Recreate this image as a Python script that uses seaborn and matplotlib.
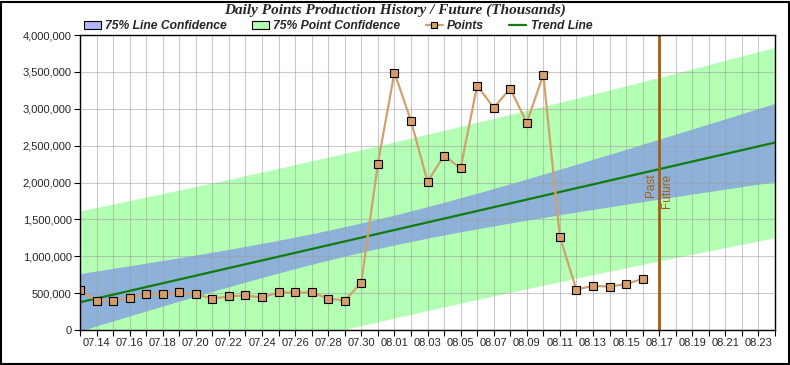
import numpy as np
import pandas as pd
import matplotlib
matplotlib.use("Agg")
import matplotlib.pyplot as plt
from matplotlib.patches import Patch, Rectangle
from matplotlib.lines import Line2D
from matplotlib.ticker import FuncFormatter, MultipleLocator
import seaborn as sns

# ---------------- data ----------------
start_date = "2008-07-13"
end_date = "2008-08-16"
axis_end_date = "2008-08-24"
divider_date = "2008-08-17"
points = [536000, 400000, 400000, 436000, 482000, 482000, 509000, 482000,
          427000, 455000, 468000, 441000, 509000, 509000, 509000, 427000,
          400000, 641000, 2255000, 3490000, 2838000, 2011000, 2364000,
          2192000, 3313000, 3015000, 3272000, 2811000, 3462000, 1261000,
          547000, 601000, 587000, 624000, 692000]
t_75 = 1.167  # two-sided 75% t multiplier
title = "Daily Points Production History / Future (Thousands)"
legend_labels = ["75% Line Confidence", "75% Point Confidence", "Points", "Trend Line"]

# ---------------- derived ----------------
dates = pd.date_range(start_date, end_date, freq="D")
all_days = pd.date_range(start_date, axis_end_date, freq="D")
y = np.array(points, dtype=float)
n = len(y)
xd = np.arange(n, dtype=float)
slope, intercept = np.polyfit(xd, y, 1)
resid = y - (slope * xd + intercept)
s = np.sqrt(np.sum(resid ** 2) / (n - 2))
xm = xd.mean()
sxx = np.sum((xd - xm) ** 2)
xs = np.linspace(0, len(all_days) - 1, 300)
fit = slope * xs + intercept
se_line = s * np.sqrt(1.0 / n + (xs - xm) ** 2 / sxx)
se_pred = s * np.sqrt(1.0 + 1.0 / n + (xs - xm) ** 2 / sxx)
xs_dates = pd.to_datetime(start_date) + pd.to_timedelta(xs, unit="D")

df = pd.DataFrame({"date": dates, "points": y})

# ---------------- style ----------------
sns.set_theme(style="white")
plt.rcParams["font.family"] = ["Liberation Sans", "DejaVu Sans"]

fig = plt.figure(figsize=(7.9, 3.65), dpi=100)
ax = fig.add_axes([80 / 790, 1 - 330 / 365, 695 / 790, 295 / 365])

green = "#b3ffb3"
blue = "#8db1d9"
ax.fill_between(xs_dates, fit - t_75 * se_pred, fit + t_75 * se_pred,
                color=green, lw=0, zorder=1)
ax.fill_between(xs_dates, fit - t_75 * se_line, fit + t_75 * se_line,
                color=blue, lw=0, zorder=1.5)

ax.plot(xs_dates, fit, color="#0e7d0e", lw=1.6, zorder=4)

sns.lineplot(data=df, x="date", y="points", ax=ax, color="#d3a06c", lw=1.6,
             marker="s", markersize=5.2, markerfacecolor="#d69d6a",
             markeredgecolor="black", markeredgewidth=0.8, zorder=5)

div = pd.to_datetime(divider_date)
ax.axvline(div, color="#a65d0c", lw=2.0, zorder=6)
ax.text(div - pd.Timedelta(hours=3), 2.12e6, "Past", rotation=90, ha="right", va="top",
        color="#a65d0c", fontsize=8.5)
ax.text(div + pd.Timedelta(hours=2), 2.12e6, "Future", rotation=90, ha="left", va="top",
        color="#a65d0c", fontsize=8.5)

ax.set_xlim(all_days[0], all_days[-1])
ax.set_ylim(0, 4000000)
ax.yaxis.set_major_locator(MultipleLocator(500000))
ax.yaxis.set_major_formatter(FuncFormatter(lambda v, p: f"{int(v):,}"))
ax.set_xticks(all_days)
ax.set_xticklabels([d.strftime("%m.%d") if i % 2 == 1 else "" for i, d in enumerate(all_days)])
ax.set_xlabel("")
ax.set_ylabel("")

ax.set_axisbelow(False)
ax.grid(True, color="#a0a0a0", alpha=0.55, lw=0.8)
ax.tick_params(axis="both", which="major", direction="out", length=4, width=0.8,
               color="black", labelsize=8, pad=2, bottom=True, left=True)
for sp in ax.spines.values():
    sp.set_color("black")
    sp.set_linewidth(1.0)
    sp.set_zorder(7)

fig.text(395 / 790, 1 - 10 / 365, title, ha="center", va="center",
         fontfamily="Liberation Serif", fontweight="bold", fontstyle="italic", fontsize=11)

handles = [
    Patch(facecolor="#b4b4f8", edgecolor="black", lw=0.8),
    Patch(facecolor=green, edgecolor="black", lw=0.8),
    Line2D([], [], color="#d3a06c", lw=1.6, marker="s", markersize=4.5,
           markerfacecolor="#d69d6a", markeredgecolor="black", markeredgewidth=0.8),
    Line2D([], [], color="#0e7d0e", lw=1.6),
]
fig.legend(handles, legend_labels, loc="center left",
           bbox_to_anchor=(84 / 790, 1 - 26 / 365), ncol=4, frameon=False,
           prop={"family": "Liberation Sans", "weight": "bold", "style": "italic", "size": 8.7},
           handlelength=1.4, handleheight=0.6, handletextpad=0.35, columnspacing=2.1,
           borderaxespad=0, borderpad=0)

fig.patches.append(Rectangle((0.5 / 790, 1.5 / 365), 788 / 790, 362 / 365,
                             transform=fig.transFigure, fill=False,
                             edgecolor="black", lw=1.5, zorder=10))

fig.savefig("out.png", dpi=100, facecolor="white")
